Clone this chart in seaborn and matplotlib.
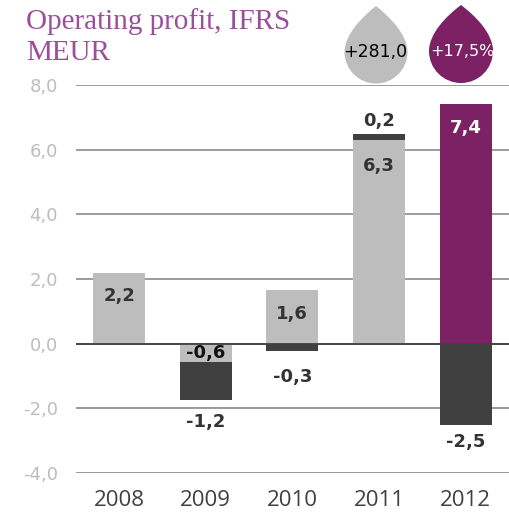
import numpy as np
import pandas as pd
import seaborn as sns
import matplotlib.pyplot as plt
from matplotlib.path import Path
from matplotlib.patches import PathPatch

years = ['2008', '2009', '2010', '2011', '2012']
first_part = [2.2, -0.58, 1.65, 6.3, 7.4]
dark_part = [0.0, -1.15, -0.23, 0.17, -2.5]
first_labels = ['2,2', '-0,6', '1,6', '6,3', '7,4']
dark_labels = ['', '-1,2', '-0,3', '0,2', '-2,5']
y_ticks = [8, 6, 4, 2, 0, -2, -4]
y_tick_labels = ['8,0', '6,0', '4,0', '2,0', '0,0', '-2,0', '-4,0']

GRAY = '#bdbdbd'
DARK = '#404040'
PURPLE = '#7c2163'
W, H = 509, 513

sns.set_style('white')
plt.rcParams['font.family'] = ['DejaVu Sans']

fig = plt.figure(figsize=(W / 100, H / 100), dpi=100)
ax = fig.add_axes([76 / W, (H - 473) / H, 1 - 76 / W, (473 - 85) / H])

df = pd.DataFrame({'year': years, 'first': first_part, 'dark': dark_part})
# dark piece sits on the first one when both have the same sign
df['bottom'] = np.where(df['first'] * df['dark'] > 0, df['first'], 0)

ax.set_axisbelow(True)
sns.barplot(data=df, x='year', y='first', hue='year', legend=False,
            palette=[GRAY, GRAY, GRAY, GRAY, PURPLE], width=0.6,
            errorbar=None, saturation=1, linewidth=0, ax=ax)
sns.barplot(data=df, x='year', y='dark', bottom=df['bottom'].values, color=DARK,
            width=0.6, errorbar=None, saturation=1, linewidth=0, ax=ax)

ax.set_xlim(-0.497, 4.5)
ax.set_ylim(-4, 8)
ax.set_xlabel('')
ax.set_ylabel('')
sns.despine(ax=ax, left=True, bottom=True, right=True, top=True)
ax.yaxis.grid(True, color='#8a8a8a', lw=1.2)
ax.xaxis.grid(False)
ax.axhline(0, color=DARK, lw=1.3, zorder=5)

ax.set_yticks(y_ticks)
ax.set_yticklabels(y_tick_labels, color=GRAY, fontsize=13)
ax.tick_params(axis='y', length=0, pad=13)
ax.tick_params(axis='x', length=0, pad=12)
for t in ax.get_xticklabels():
    t.set_fontfamily('Open Sans')
    t.set_fontsize(16)
    t.set_color('#404040')


def value_label(i, y, text, dy, color='#333333'):
    ax.annotate(text, (i, y), xytext=(0, dy), textcoords='offset pixels',
                ha='center', va='center', fontsize=13, fontweight='bold',
                color=color, zorder=6)


# pixel offsets from the bar ends, picked by eye
value_label(0, first_part[0], first_labels[0], -23)
value_label(1, 0, first_labels[1], -9, '#111111')
value_label(2, first_part[2], first_labels[2], -24)
value_label(3, first_part[3], first_labels[3], -26)
value_label(4, first_part[4], first_labels[4], -24, 'white')
value_label(1, first_part[1] + dark_part[1], dark_labels[1], -22)
value_label(2, dark_part[2], dark_labels[2], -26)
value_label(3, first_part[3] + dark_part[3], dark_labels[3], 13)
value_label(4, dark_part[4], dark_labels[4], -17)

fig.text(26 / W, 1 - 29 / H, 'Operating profit, IFRS', family='Liberation Serif',
         fontsize=21, color='#9a4f9a')
fig.text(26 / W, 1 - 60 / H, 'MEUR', family='Liberation Serif',
         fontsize=21, color='#9a4f9a')


def drop(cx, cy, r, tip_y, color):
    # teardrop outline in figure pixels
    k = 0.552 * r
    verts = [(cx, tip_y),
             (cx + 0.45 * r, cy - r * 1.1), (cx + r, cy - r * 0.55), (cx + r, cy),
             (cx + r, cy + k), (cx + k, cy + r), (cx, cy + r),
             (cx - k, cy + r), (cx - r, cy + k), (cx - r, cy),
             (cx - r, cy - r * 0.55), (cx - 0.45 * r, cy - r * 1.1), (cx, tip_y),
             (cx, tip_y)]
    codes = [Path.MOVETO] + [Path.CURVE4] * 12 + [Path.CLOSEPOLY]
    verts = [(x / W, 1 - y / H) for x, y in verts]
    fig.add_artist(PathPatch(Path(verts, codes), fc=color, ec='none',
                             transform=fig.transFigure, zorder=8))


drop(376, 52, 31.5, 6, GRAY)
drop(461, 51, 32, 5, PURPLE)
fig.text(375 / W, 1 - 52 / H, '+281,0', ha='center', va='center', fontsize=12.5,
         color='black', zorder=9)
fig.text(462 / W, 1 - 52 / H, '+17,5%', ha='center', va='center', fontsize=11.5,
         color='white', zorder=9)

fig.savefig('out.png', dpi=100)
